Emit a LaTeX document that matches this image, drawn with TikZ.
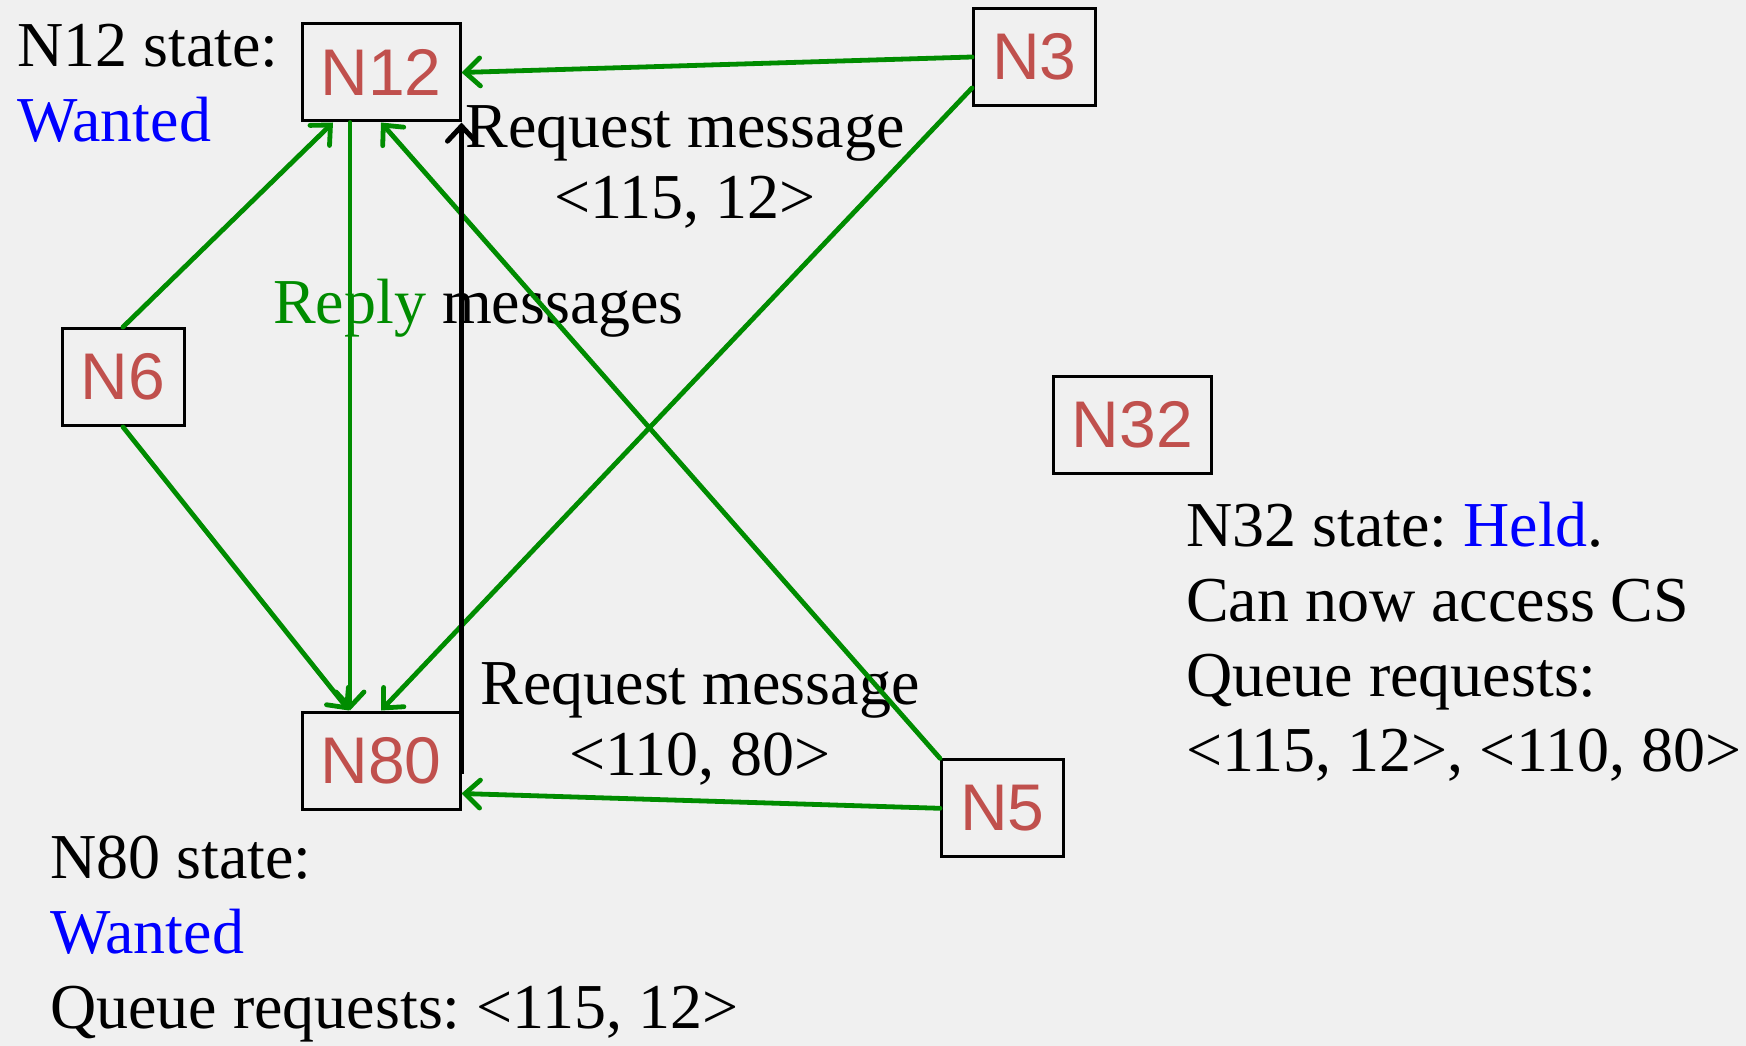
\documentclass[tikz,border=0pt]{standalone}
\usepackage{fontspec}
\setmainfont{Liberation Serif}
\newfontfamily\boxfont{Liberation Sans}
\usetikzlibrary{arrows.meta}
\definecolor{bg}{RGB}{240,240,240}
\definecolor{nodered}{RGB}{192,80,77}
\definecolor{msggreen}{RGB}{0,140,0}
\definecolor{stateblue}{RGB}{0,0,255}
\frenchspacing
\begin{document}
\begin{tikzpicture}[x=1pt,y=-1pt,
  nodebox/.style={draw=black, line width=3pt, minimum height=97pt, inner sep=0pt,
    text=nodered, font=\boxfont\fontsize{66}{66}\selectfont},
  widebox/.style={nodebox, minimum width=158pt},
  narrowbox/.style={nodebox, minimum width=122pt},
  greenarrow/.style={draw=msggreen, line width=4.8pt, line cap=round,
    -{Straight Barb[length=15pt,width=28pt,line cap=round]}},
  blackarrow/.style={draw=black, line width=5pt,
    -{Straight Barb[length=15pt,width=28pt,line cap=round]}},
  txtblock/.style={inner sep=0pt, font=\fontsize{64}{75}\selectfont, align=left},
  msgblock/.style={inner sep=0pt, font=\fontsize{64}{71}\selectfont, align=center},
]
\fill[bg] (0,0) rectangle (1746,1046);
\useasboundingbox (0,0) rectangle (1746,1046);

% boxes
\node[widebox]  (n12) at (381,72.5)   {N12};
\node[widebox]  (n80) at (381,760.5)  {N80};
\node[narrowbox] (n3) at (1034.5,57)  {N3};
\node[narrowbox] (n6) at (123,377)    {N6};
\node[widebox]  (n32) at (1132.5,424.7) {N32};
\node[narrowbox] (n5) at (1002.5,808.3) {N5};

% texts
\node[txtblock, anchor=north west] (s12) at (17,24) {N12 state:\\\textcolor{stateblue}{Wanted}};
\node[msgblock, anchor=north] (r12) at (685,105) {Request message\\<115, 12>};
\node[txtblock, anchor=base west] (reply) at (273,323) {\textcolor{msggreen}{Reply} messages};
\node[msgblock, anchor=north] (r80) at (700,662) {Request message\\<110, 80>};
\node[txtblock, anchor=north west] (s32) at (1186,502) {N32 state: \textcolor{stateblue}{Held}.\\Can now access CS\\Queue requests:\\<115, 12>, <110, 80>};
\node[txtblock, anchor=north west] (s80) at (50,836) {N80 state:\\\textcolor{stateblue}{Wanted}\\Queue requests: <115, 12>};

% connectors
\draw[greenarrow] (n3.west) -- (n12.east);
\draw[greenarrow] (n6.north) -- ([xshift=-48pt]n12.south);
\draw[greenarrow] ([xshift=-31pt]n12.south) -- ([xshift=-31pt]n80.north);
\draw[greenarrow] (n5.north west) -- (n12.south);
\draw[greenarrow] (n6.south) -- ([xshift=-32pt]n80.north);
\draw[greenarrow] ([yshift=-31pt]n3.west) -- (n80.north);
\draw[greenarrow] (n5.west) -- ([yshift=-33pt]n80.east);
\draw[blackarrow] ([yshift=-63pt]n80.north east) -- (n12.south east);
\end{tikzpicture}
\end{document}
